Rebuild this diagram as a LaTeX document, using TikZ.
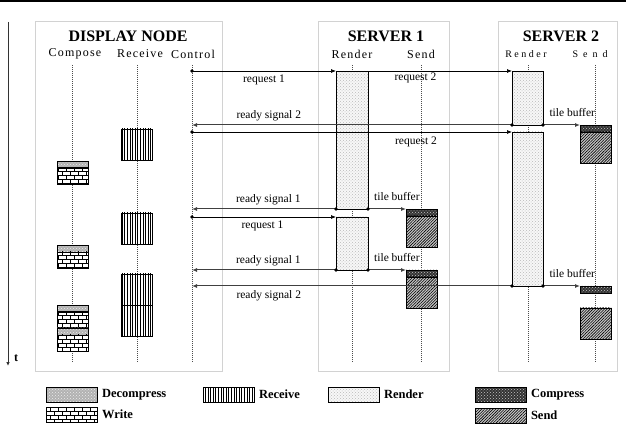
\documentclass[tikz,border=0pt]{standalone}
\usepackage{fontspec}
\setmainfont{Liberation Serif}
\newfontfamily\colfont[LetterSpace=10]{Liberation Serif}
\newfontfamily\widefont[LetterSpace=25]{Liberation Serif}
\newfontfamily\widerfont[LetterSpace=50]{Liberation Serif}
\usetikzlibrary{positioning, patterns, patterns.meta, arrows.meta}

\pgfdeclarepatternformonly{smallbricks}{\pgfqpoint{-0.5pt}{-0.5pt}}{\pgfqpoint{8.5pt}{8.5pt}}{\pgfqpoint{8pt}{8pt}}{%
    \pgfsetlinewidth{0.7pt}
    \pgfpathmoveto{\pgfqpoint{0pt}{0pt}}\pgfpathlineto{\pgfqpoint{8pt}{0pt}}
    \pgfpathmoveto{\pgfqpoint{0pt}{4pt}}\pgfpathlineto{\pgfqpoint{8pt}{4pt}}
    \pgfpathmoveto{\pgfqpoint{2pt}{0pt}}\pgfpathlineto{\pgfqpoint{2pt}{4pt}}
    \pgfpathmoveto{\pgfqpoint{6pt}{4pt}}\pgfpathlineto{\pgfqpoint{6pt}{8pt}}
    \pgfusepath{stroke}}

\begin{document}
\begin{tikzpicture}[
    x=1pt, y=-1pt,
    every node/.style={inner sep=0pt, outer sep=0pt},
    >=Latex,
    boxframe/.style={draw=gray!35, line width=1pt},
    life/.style={black!70, line width=0.6pt, dash pattern=on 0.8pt off 1.2pt},
    blk/.style={draw, line width=0.8pt, anchor=north west, minimum width=31},
    decomp/.style={blk, minimum height=7, preaction={fill=gray!60}, pattern=crosshatch dots, pattern color=gray!15},
    writeb/.style={blk, minimum height=16, preaction={fill=white}, pattern=smallbricks},
    recv/.style={blk, minimum height=31, preaction={fill=white}, pattern={Lines[angle=90,distance=2.6pt,line width=0.8pt]}},
    rend/.style={blk, minimum width=32, preaction={fill=gray!6}, pattern=crosshatch dots, pattern color=gray!55},
    comp/.style={blk, minimum height=7, preaction={fill=black!80}, pattern=crosshatch dots, pattern color=gray!45},
    sendb/.style={blk, minimum height=31, preaction={fill=gray!45}, pattern={Lines[angle=45,distance=2pt,line width=0.6pt]}},
    req/.style={black, line width=0.7pt, -{Latex[length=5pt,width=4pt]}},
    rdy/.style={black!75, line width=1pt, -{Latex[length=5pt,width=4pt]}},
    lbl/.style={text=black, font=\fontsize{11.5}{12}\selectfont},
    ttl/.style={font=\bfseries\fontsize{16}{18}\selectfont},
    col/.style={font=\colfont\fontsize{12}{14}\selectfont},
    keytxt/.style={font=\bfseries\fontsize{12.5}{13}\selectfont, anchor=west}
]
    \useasboundingbox (0,0) rectangle (626,427);
    \fill (0,0) rectangle (626,2.5);

    \coordinate (tstart) at (8,22);
    \coordinate (tend) at (8,366);
    \draw[line width=1pt, black!80, -{Latex[length=4pt,width=3.5pt]}] (tstart) -- (tend);
    \node[font=\bfseries\fontsize{12}{12}\selectfont] (tlabel) at (16,358) {t};

    \draw[boxframe] (35,22) rectangle (222,371);
    \draw[boxframe] (318,22) rectangle (449,371);
    \draw[boxframe] (498,22) rectangle (617,371);

    \node[ttl] (disp) at (128,36) {DISPLAY NODE};
    \node[ttl] (srv1) at (386,36) {SERVER 1};
    \node[ttl] (srv2) at (561,36) {SERVER 2};

    \foreach \nm/\x/\txt in {compose/75/Compose, receive/140/Receive, control/193/Control, render1/352/Render, send1/421/Send}
        \node[col] (h\nm) at (\x,54) {\txt};
    \node[col, font=\widefont\fontsize{10}{12}\selectfont] (hrender2) at (526,54) {Render};
    \node[col, font=\widerfont\fontsize{10}{12}\selectfont] (hsend2) at (590,54) {Send};

    \foreach \x in {72.5,137,192,352,421,528,595.5}
        \draw[life] (\x,65) -- (\x,362);

    \foreach \y [count=\i] in {161,245,305,328}{
        \node[decomp] (dc\i) at (57,\y) {};
        \node[writeb, below=0pt of dc\i] (wr\i) {};
    }

    \foreach \y [count=\i] in {129,213,274,305}
        \node[recv] (rc\i) at (121,\y) {};

    \node[rend, minimum height=138] (r1a) at (336,71) {};
    \node[rend, minimum height=53] (r1b) at (336,217) {};
    \node[rend, minimum height=54, minimum width=31] (r2a) at (512,71) {};
    \node[rend, minimum height=154, minimum width=31] (r2b) at (512,132) {};

    \node[comp] (c1a) at (406,209) {};
    \node[sendb, below=0pt of c1a] (s1a) {};
    \node[comp] (c1b) at (406,270) {};
    \node[sendb, below=0pt of c1b] (s1b) {};
    \node[comp] (c2a) at (580,125) {};
    \node[sendb, below=0pt of c2a] (s2a) {};
    \node[comp] (c2b) at (580,286) {};
    \node[sendb] (s2b) at (580,308) {};

    \foreach \nm/\y in {q1/71, s2/125, q2/132, s1/209, q3/217, s3/270, s4/286}
        \coordinate (ctl\nm) at (192,\y);

    \draw[req] (ctlq1) -- (r1a.north west) node[lbl, pos=0.5, below=4pt] (lq1) {request 1};
    \draw[req] (r1a.north east) -- (r2a.north west) node[lbl, pos=0.33, below=2pt] (lq2) {request 2};
    \draw[rdy] (r2a.south west) -- (ctls2) node[lbl, pos=0.76, above=4pt] (ls2) {ready signal 2};
    \draw[rdy] (r2a.south east) -- (c2a.north west) node[lbl, pos=0.79, above=8pt] (lt2) {tile buffer};
    \draw[req] (ctlq2) -- (r2b.north west) node[lbl, pos=0.70, below=5pt] (lq3) {request 2};
    \draw[rdy] (r1a.south west) -- (ctls1) node[lbl, pos=0.47, above=4pt] (ls1) {ready signal 1};
    \draw[rdy] (r1a.south east) -- (c1a.north west) node[lbl, pos=0.76, above=8pt] (lt1) {tile buffer};
    \draw[req] (ctlq3) -- (r1b.north west) node[lbl, pos=0.49, below=4pt] (lq4) {request 1};
    \draw[rdy] (r1b.south west) -- (ctls3) node[lbl, pos=0.47, above=4pt] (ls3) {ready signal 1};
    \draw[rdy] (r1b.south east) -- (c1b.north west) node[lbl, pos=0.76, above=8pt] (lt3) {tile buffer};
    \draw[rdy] (r2b.south west) -- (ctls4) node[lbl, pos=0.76, below=5pt] (ls4) {ready signal 2};
    \draw[rdy] (r2b.south east) -- (c2b.north west) node[lbl, pos=0.79, above=8pt] (lt4) {tile buffer};

    \foreach \p in {ctlq1, ctlq2, ctlq3, r1a.south west, r1a.south east, r1b.south west, r1b.south east, r2a.south west, r2a.south east, r2b.south west, r2b.south east}
        \fill (\p) circle (1.8);

    \foreach \st/\x/\y/\txt in {decomp/46/387/Decompress, writeb/46/407/Write, recv/203/387/Receive, rend/328/387/Render, comp/475/387/Compress, sendb/475/408/Send}{
        \node[\st, minimum width=51, minimum height=15] (key\st) at (\x,\y) {};
        \node[keytxt, right=5pt of key\st] (txt\st) {\txt};
    }
\end{tikzpicture}
\end{document}
